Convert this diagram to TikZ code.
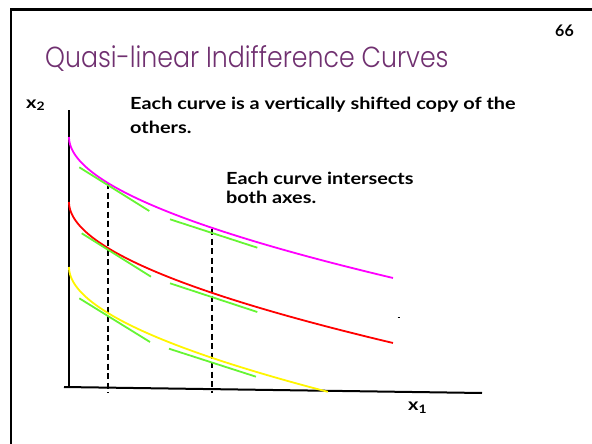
\documentclass[tikz,border=0pt]{standalone}
\usepackage{fontspec}
\setmainfont{Lato}
\newfontfamily\bodyfont{Lato Bold}[FakeStretch=1.19]
\IfFontExistsTF{Poppins Light}{\newfontfamily\titlefont{Poppins Light}[FakeStretch=0.87]}{\newfontfamily\titlefont{Poppins}[FakeStretch=0.87]}
\definecolor{titlepurple}{RGB}{112,48,112}
\definecolor{tangentgreen}{RGB}{102,245,51}
\definecolor{curveyellow}{RGB}{255,245,0}
\definecolor{curvemagenta}{RGB}{255,0,255}
\definecolor{curvered}{RGB}{255,0,0}
\begin{document}
\begin{tikzpicture}[x=1pt,y=-1pt,
  txt/.style={anchor=base west,inner sep=0pt,font=\bodyfont\fontsize{16.7}{23.5}\selectfont},
  axis/.style={line width=2pt,black},
  icurve/.style={line width=1.8pt},
  tangent/.style={line width=1.8pt,tangentgreen},
  guide/.style={line width=1.3pt,black,dash pattern=on 6pt off 3.5pt}]
\useasboundingbox (0,0) rectangle (592,444);
% frame
\draw[line width=2.5pt] (11,444) -- (11,9.5) -- (592,9.5);
% title and page number
\node[anchor=base west,inner sep=0pt,text=titlepurple,font=\titlefont\fontsize{29}{34}\selectfont] (title) at (45,67) {Quasi-linear Indifference Curves};
\node[anchor=base east,inner sep=0pt,font=\bfseries\fontsize{16}{19}\selectfont] (page) at (574,36.5) {66};
% texts (base anchor = baseline of the last line)
\node[txt,align=left] (t1) at (130,133.3) {Each curve is a vertically shifted copy of the\\others.};
\node[txt,align=left,font=\bodyfont\fontsize{16.7}{19.5}\selectfont] (t2) at (226,203.5) {Each curve intersects\\both axes.};
% axes
\coordinate (ytop) at (69,110);
\coordinate (ybot) at (69,388);
\coordinate (xl) at (64,387);
\coordinate (xr) at (482,393);
\draw[axis] (ytop) -- (ybot);
\draw[axis] (xl) -- (xr);
\node[txt] (x2) at (26,108.3) {x\textsubscript{2}};
\node[txt] (x1) at (408,410.5) {x\textsubscript{1}};
% guides
\coordinate (g1t) at (108,183);
\coordinate (g1b) at (108,393);
\coordinate (g2t) at (212,229);
\coordinate (g2b) at (212,393);
\draw[guide] (g1t) -- (g1b);
\draw[guide] (g2t) -- (g2b);
% curves x = 69 + t^2, y = c + 7.13 t + 0.039 t^2
\draw[icurve,curvemagenta] plot[domain=0:18,samples=80,smooth,variable=\t] ({69+\t*\t},{137+7.13*\t+0.039*\t*\t});
\draw[icurve,curvered] plot[domain=0:18,samples=80,smooth,variable=\t] ({69+\t*\t},{202+7.13*\t+0.039*\t*\t});
\draw[icurve,curveyellow] plot[domain=0:16.09,samples=80,smooth,variable=\t] ({69+\t*\t},{267+7.13*\t+0.039*\t*\t});
% tangents
\draw[tangent] (79.3,167.3) -- (149.3,211);
\draw[tangent] (81.7,233.3) -- (151,276.7);
\draw[tangent] (79.3,298.3) -- (150,342);
\draw[tangent] (170,219.3) -- (257.3,247.7);
\draw[tangent] (170,283.3) -- (257.3,312);
\draw[tangent] (169,348.7) -- (256,376.7);
% stray mark
\draw[line width=1pt] (397.5,317.5) -- (399.5,317.5);
\end{tikzpicture}
\end{document}
